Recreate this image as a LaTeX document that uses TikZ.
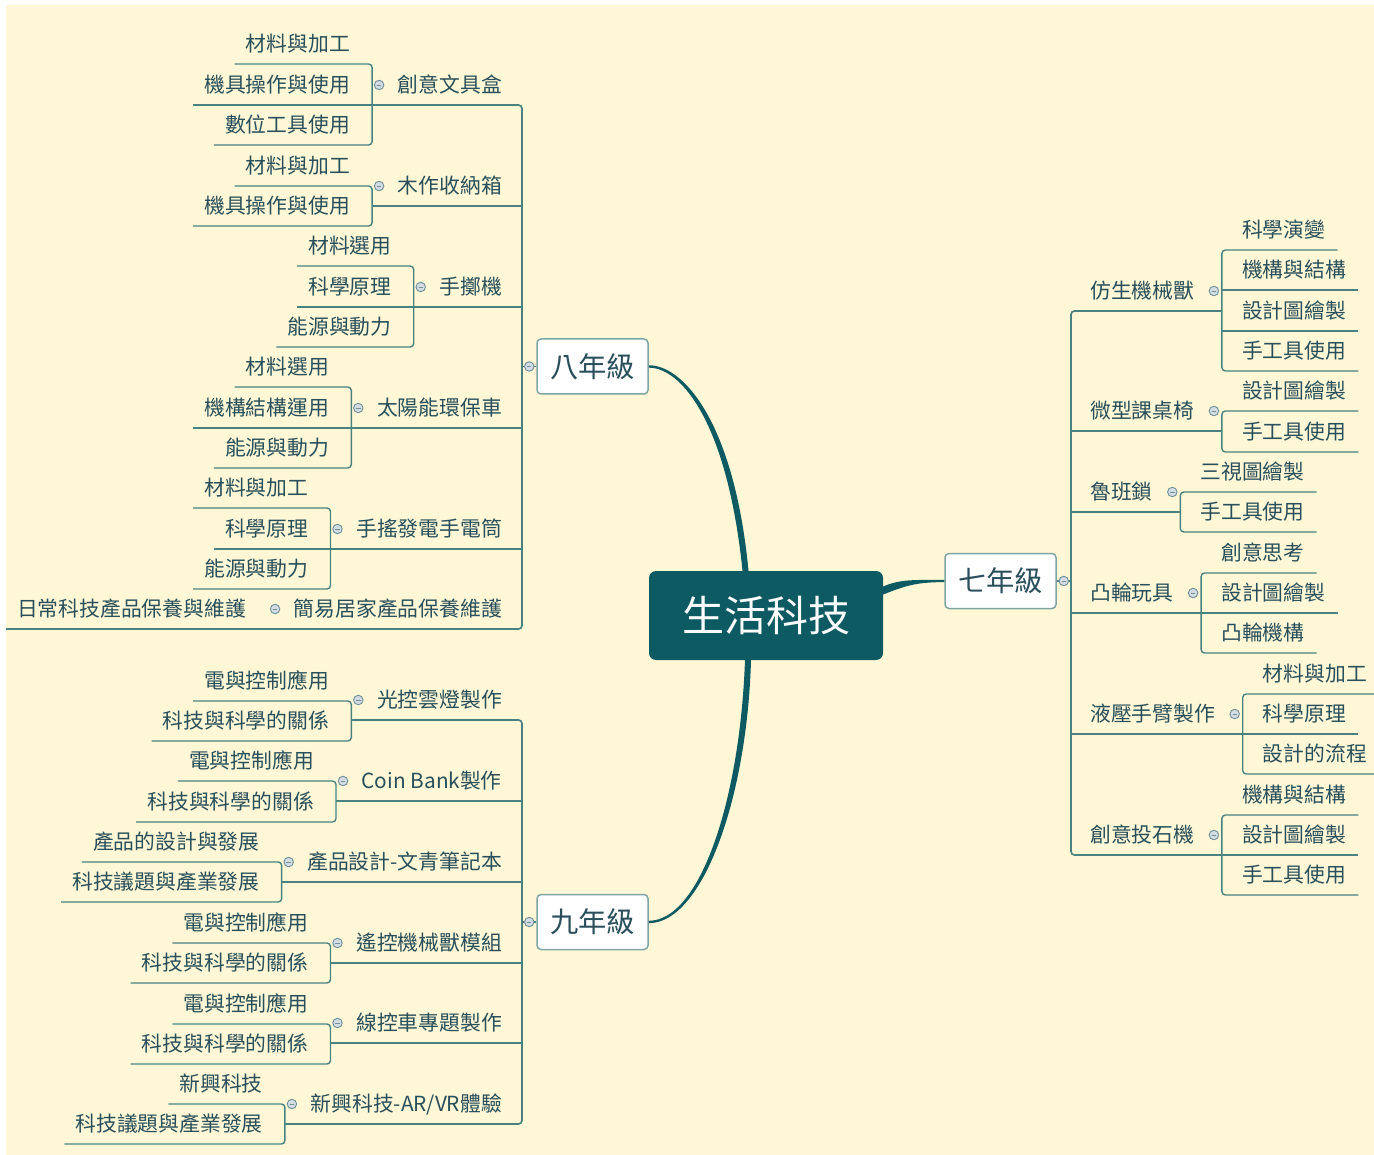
\documentclass[tikz,border=0pt]{standalone}
\usepackage{fontspec}
\setmainfont{Noto Sans CJK TC}
\usetikzlibrary{calc}
\definecolor{bg}{HTML}{FFF7D6}
\definecolor{txt}{HTML}{284F5B}
\definecolor{lnc}{HTML}{4A8282}
\definecolor{core}{HTML}{0D5A63}
\definecolor{gbd}{HTML}{7FA5A5}
\definecolor{dotf}{HTML}{D3DBE3}
\definecolor{dotb}{HTML}{6F8F99}
\newcommand\ulstrut{\rule[-12.1pt]{0pt}{32pt}}
\tikzset{
  lab/.style={inner sep=0pt, font=\fontsize{20.8pt}{24pt}\selectfont, text=txt},
  ul/.style={draw=lnc, line width=1.4pt},
  br/.style={ul, rounded corners=3.5pt},
  gbr/.style={draw=lnc, line width=1.7pt, rounded corners=3.5pt},
  dot/.style={circle, draw=dotb, fill=dotf, line width=0.9pt, minimum size=9.5pt, inner sep=0pt,
    path picture={\draw[dotb, line width=0.8pt] ([xshift=-2.2pt]path picture bounding box.center) -- ([xshift=2.2pt]path picture bounding box.center);}},
  grade/.style={draw=gbd, fill=white, rounded corners=4pt, line width=1.5pt, minimum width=111pt,
    minimum height=55pt, inner sep=0pt, font=\fontsize{28.3pt}{32pt}\selectfont, text=txt},
  corebox/.style={fill=core, rounded corners=7pt, minimum width=234pt, minimum height=89pt,
    inner sep=0pt, font=\fontsize{42pt}{46pt}\selectfont, text=white},
}
% left parent: name, underline y, text
\newcommand\LP[3]{\node[lab, anchor=south east] (#1) at (522,#2) {\kern25.5pt\ulstrut #3\kern20pt};}
% left child: name, parent, underline y, text
\newcommand\LC[4]{\node[lab, anchor=south east] (#1) at (#2.south west |- 0,#3) {\kern11pt\ulstrut #4\kern22pt};}
% right parent
\newcommand\RP[3]{\node[lab, anchor=south west] (#1) at (1071,#2) {\kern19pt\ulstrut #3\kern27.5pt};}
% right child
\newcommand\RC[4]{\node[lab, anchor=south west] (#1) at (#2.south east |- 0,#3) {\kern20pt\ulstrut #4\kern12pt};}
\newcommand\U[1]{\draw[ul] (#1.south west) -- (#1.south east);}
\newcommand\LB[2]{\draw[br] (#1.south west) -- (#1.south east) -- (#2.south east) -- (#2.south west);}
\newcommand\RB[2]{\draw[br] (#1.south east) -- (#1.south west) -- (#2.south west) -- (#2.south east);}
\newcommand\LD[1]{\node[dot] (#1d) at ([xshift=7pt,yshift=20pt]#1.south west) {};}
\newcommand\RD[1]{\node[dot] (#1d) at ([xshift=-8pt,yshift=20pt]#1.south east) {};}
\begin{document}
\begin{tikzpicture}[x=1pt,y=-1pt]
\useasboundingbox (0,0) rectangle (1374,1155);
\fill[white] (0,0) rectangle (1374,1155);
\fill[bg] (6,5) rectangle (1374,1155);

% central and grade nodes
\node[corebox] (c) at (766,615.5) {生活科技};
\node[grade] (g8) at (592.5,366.5) {八年級};
\node[grade] (g9) at (592.5,922) {九年級};
\node[grade] (g7) at (1000.5,581) {七年級};

% tapered links
\fill[core] ([xshift=-23.5pt]c.north) .. controls (727,420) and (680,367.3) .. ([yshift=-1.2pt]g8.east)
  -- ([yshift=1.2pt]g8.east) .. controls (682,364.7) and (734,420) .. ([xshift=-17.5pt]c.north) -- cycle;
\fill[core] ([xshift=-21pt]c.south) .. controls (740,800) and (700,920.8) .. ([yshift=1.2pt]g9.east)
  -- ([yshift=-1.2pt]g9.east) .. controls (702,923.2) and (747,800) .. ([xshift=-15pt]c.south) -- cycle;
\fill[core] ([yshift=29pt]c.east) .. controls (900,579) and (915,580) .. ([yshift=1.1pt]g7.west)
  -- ([yshift=-1.1pt]g7.west) .. controls (915,582.2) and (905,586) .. ([yshift=21pt]c.east) -- cycle;

% ---------- 八年級 ----------
\LP{A1}{105}{創意文具盒}
\LC{A1a}{A1}{64}{材料與加工}
\LC{A1b}{A1}{105}{機具操作與使用}
\LC{A1c}{A1}{145}{數位工具使用}
\LP{A2}{206}{木作收納箱}
\LC{A2a}{A2}{186}{材料與加工}
\LC{A2b}{A2}{226}{機具操作與使用}
\LP{A3}{307}{手擲機}
\LC{A3a}{A3}{266}{材料選用}
\LC{A3b}{A3}{307}{科學原理}
\LC{A3c}{A3}{347}{能源與動力}
\LP{A4}{428}{太陽能環保車}
\LC{A4a}{A4}{387}{材料選用}
\LC{A4b}{A4}{428}{機構結構運用}
\LC{A4c}{A4}{468}{能源與動力}
\LP{A5}{549}{手搖發電手電筒}
\LC{A5a}{A5}{508}{材料與加工}
\LC{A5b}{A5}{549}{科學原理}
\LC{A5c}{A5}{589}{能源與動力}
\LP{A6}{629}{簡易居家產品保養維護}
\LC{A6a}{A6}{629}{日常科技產品保養與維護}

\LB{A1a}{A1c} \U{A1b}
\LB{A2a}{A2b}
\LB{A3a}{A3c} \U{A3b}
\LB{A4a}{A4c} \U{A4b}
\LB{A5a}{A5c} \U{A5b}
\U{A6a}
\draw[gbr] (A1.south west) -- (A1.south east) -- (A6.south east) -- (A6.south west);
\U{A2} \U{A3} \U{A4} \U{A5}
\draw[ul] (g8.west) -- (g8.west -| A1.south east);

% ---------- 九年級 ----------
\LP{B1}{720}{光控雲燈製作}
\LC{B1a}{B1}{701}{電與控制應用}
\LC{B1b}{B1}{741}{科技與科學的關係}
\LP{B2}{801}{Coin Bank製作}
\LC{B2a}{B2}{781}{電與控制應用}
\LC{B2b}{B2}{822}{科技與科學的關係}
\LP{B3}{882}{產品設計-文青筆記本}
\LC{B3a}{B3}{862}{產品的設計與發展}
\LC{B3b}{B3}{902}{科技議題與產業發展}
\LP{B4}{963}{遙控機械獸模組}
\LC{B4a}{B4}{943}{電與控制應用}
\LC{B4b}{B4}{983}{科技與科學的關係}
\LP{B5}{1043}{線控車專題製作}
\LC{B5a}{B5}{1024}{電與控制應用}
\LC{B5b}{B5}{1064}{科技與科學的關係}
\LP{B6}{1124}{新興科技-AR/VR體驗}
\LC{B6a}{B6}{1104}{新興科技}
\LC{B6b}{B6}{1144}{科技議題與產業發展}

\LB{B1a}{B1b} \LB{B2a}{B2b} \LB{B3a}{B3b}
\LB{B4a}{B4b} \LB{B5a}{B5b} \LB{B6a}{B6b}
\draw[gbr] (B1.south west) -- (B1.south east) -- (B6.south east) -- (B6.south west);
\U{B2} \U{B3} \U{B4} \U{B5}
\draw[ul] (g9.west) -- (g9.west -| B1.south east);

% ---------- 七年級 ----------
\RP{C1}{311}{仿生機械獸}
\RC{C1a}{C1}{250}{科學演變}
\RC{C1b}{C1}{290}{機構與結構}
\RC{C1c}{C1}{331}{設計圖繪製}
\RC{C1d}{C1}{371}{手工具使用}
\RP{C2}{431}{微型課桌椅}
\RC{C2a}{C2}{411}{設計圖繪製}
\RC{C2b}{C2}{452}{手工具使用}
\RP{C3}{512}{魯班鎖}
\RC{C3a}{C3}{492}{三視圖繪製}
\RC{C3b}{C3}{532}{手工具使用}
\RP{C4}{613}{凸輪玩具}
\RC{C4a}{C4}{573}{創意思考}
\RC{C4b}{C4}{613}{設計圖繪製}
\RC{C4c}{C4}{653}{凸輪機構}
\RP{C5}{734}{液壓手臂製作}
\RC{C5a}{C5}{694}{材料與加工}
\RC{C5b}{C5}{734}{科學原理}
\RC{C5c}{C5}{774}{設計的流程}
\RP{C6}{855}{創意投石機}
\RC{C6a}{C6}{815}{機構與結構}
\RC{C6b}{C6}{855}{設計圖繪製}
\RC{C6c}{C6}{895}{手工具使用}

\RB{C1a}{C1d} \U{C1b} \U{C1c}
\RB{C2a}{C2b}
\RB{C3a}{C3b}
\RB{C4a}{C4c} \U{C4b}
\RB{C5a}{C5c} \U{C5b}
\RB{C6a}{C6c} \U{C6b}
\draw[gbr] (C1.south east) -- (C1.south west) -- (C6.south west) -- (C6.south east);
\U{C2} \U{C3} \U{C4} \U{C5}
\draw[ul] (g7.east) -- (g7.east -| C1.south west);

% ---------- collapse dots ----------
\LD{A1} \LD{A2} \LD{A3} \LD{A4} \LD{A5} \LD{A6}
\LD{B1} \LD{B2} \LD{B3} \LD{B4} \LD{B5} \LD{B6}
\RD{C1} \RD{C2} \RD{C3} \RD{C4} \RD{C5} \RD{C6}
\node[dot] (g8d) at ([xshift=-7pt]g8.west) {};
\node[dot] (g9d) at ([xshift=-7pt]g9.west) {};
\node[dot] (g7d) at ([xshift=7pt]g7.east) {};
\end{tikzpicture}
\end{document}
